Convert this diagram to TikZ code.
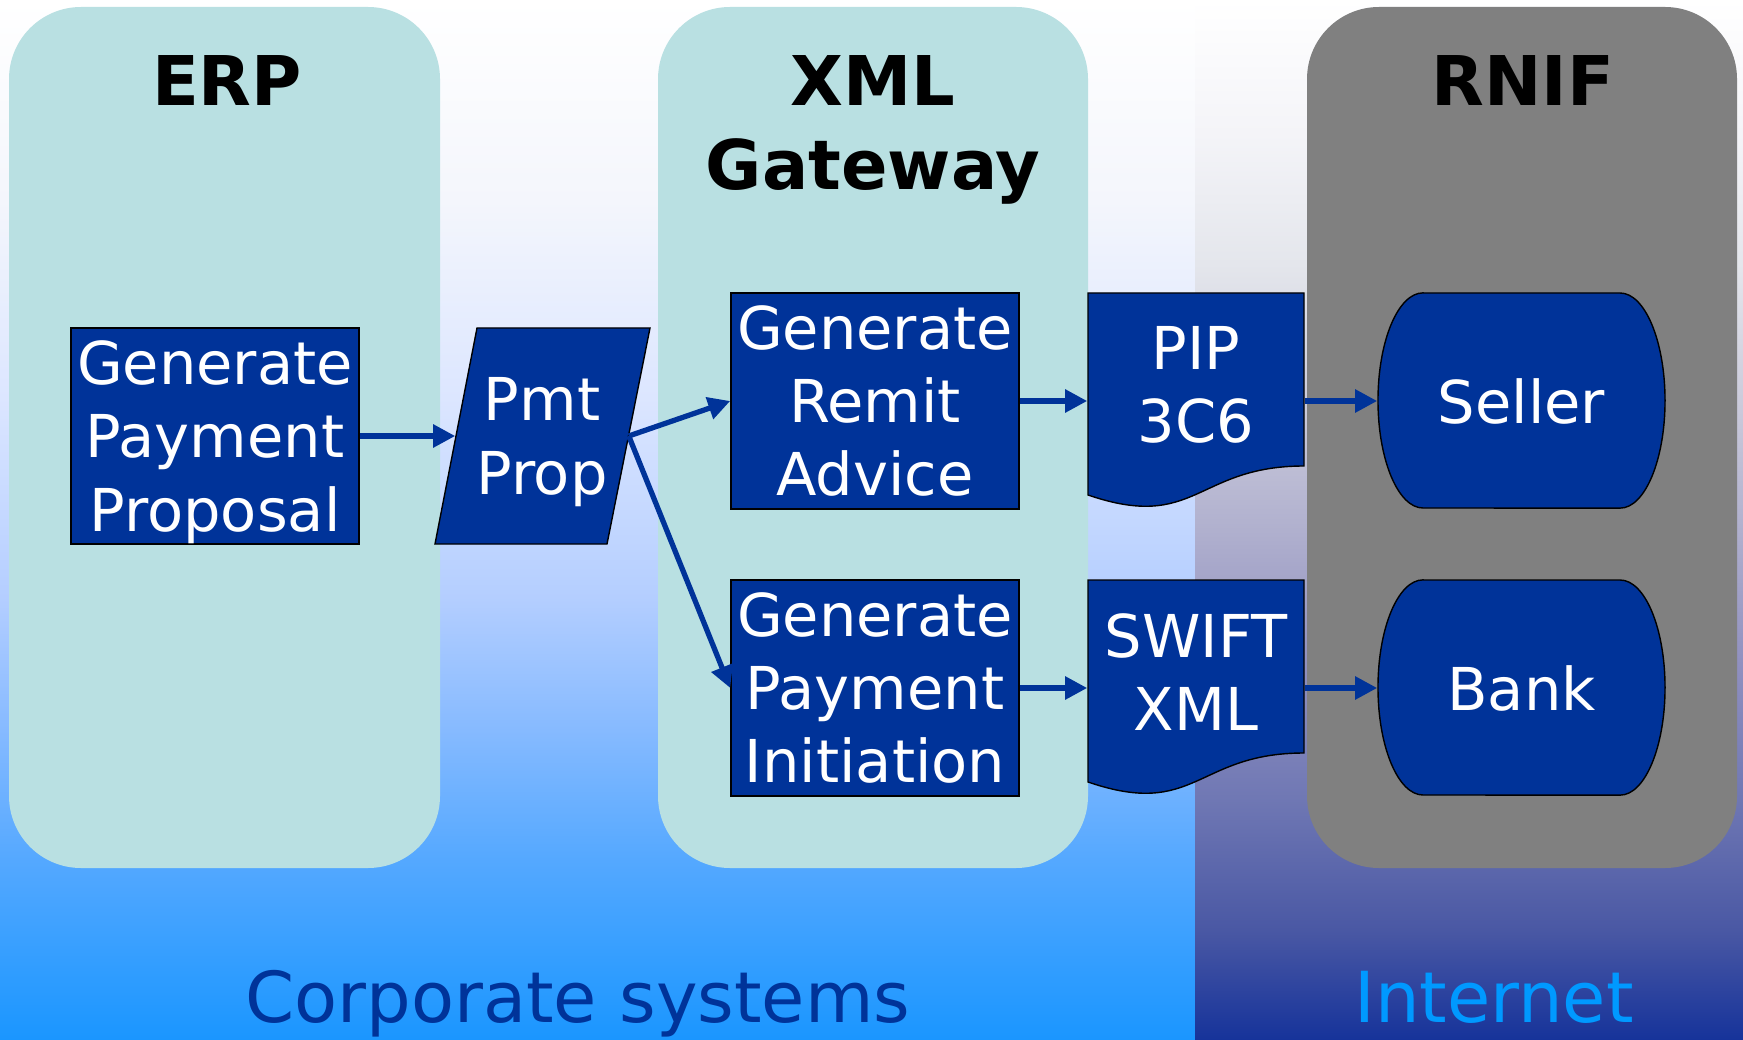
\documentclass[tikz,border=0pt]{standalone}
\usepackage{fontspec}
\setmainfont{DejaVu Sans}
\usepackage{tikz}
\usetikzlibrary{arrows.meta}

\definecolor{boxblue}{HTML}{003399}
\definecolor{panelcyan}{HTML}{B9E0E2}
\definecolor{panelgray}{HTML}{808080}
\definecolor{netblue}{HTML}{0099FF}

% sky behind the corporate part and behind the internet part
\pgfdeclareverticalshading{corpsky}{100bp}{rgb(0bp)=(0.102,0.588,1); rgb(25bp)=(0.102,0.588,1);
  rgb(33.6bp)=(0.329,0.659,1); rgb(39.9bp)=(0.525,0.729,1); rgb(46.3bp)=(0.706,0.808,1);
  rgb(55.9bp)=(0.863,0.902,1); rgb(65.4bp)=(0.957,0.965,0.988); rgb(75bp)=(1,1,1); rgb(100bp)=(1,1,1)}
\pgfdeclareverticalshading{netsky}{100bp}{rgb(0bp)=(0.086,0.2,0.604); rgb(25bp)=(0.086,0.2,0.604);
  rgb(30.3bp)=(0.29,0.345,0.643); rgb(36.7bp)=(0.439,0.471,0.706); rgb(43.1bp)=(0.565,0.565,0.753);
  rgb(49.5bp)=(0.69,0.69,0.808); rgb(55.9bp)=(0.8,0.8,0.863); rgb(62.3bp)=(0.894,0.902,0.925);
  rgb(68.6bp)=(0.957,0.957,0.973); rgb(75bp)=(1,1,1); rgb(100bp)=(1,1,1)}

\begin{document}
\begin{tikzpicture}[x=0.01cm, y=-0.01cm,
		panel/.style={fill=panelcyan, rounded corners=0.72cm},
		paneltitle/.style={font=\fontsize{19.5}{23.9}\selectfont\bfseries, inner sep=0pt, align=center},
		proc/.style={draw=black, line width=0.4pt, fill=boxblue, text=white, minimum width=2.88cm,
			minimum height=2.16cm, inner sep=0pt, align=center, font=\fontsize{16.8}{20.8}\selectfont},
		shapetext/.style={text=white, inner sep=0pt, align=center, font=\fontsize{16.8}{20.8}\selectfont},
		outline/.style={draw=black, line width=0.4pt, fill=boxblue},
		flow/.style={draw=boxblue, line width=1.5pt, -{Triangle[length=0.22cm, width=0.22cm]}},
		zonelabel/.style={font=\fontsize{20}{24}\selectfont, inner sep=0pt}]
		% Background
		\useasboundingbox (0,0) rectangle (1743,1040);
		\shade[shading=corpsky] (0,0) rectangle (1195,1040);
		\shade[shading=netsky] (1195,0) rectangle (1743,1040);

		% Panels
		\fill[panel] (9,7) rectangle (440,868);
		\fill[panel] (658,7) rectangle (1088,868);
		\fill[panel, fill=panelgray] (1307,7) rectangle (1737,868);
		\node[paneltitle, anchor=base] (erp) at (227,106) {ERP};
		\node[paneltitle, anchor=north] (gateway) at (873,55) {XML\\Gateway};
		\node[paneltitle, anchor=base] (rnif) at (1523,106) {RNIF};

		% Shapes drawn by hand
		\filldraw[outline] (477,328) -- (650,328) -- (607,544) -- (435,544) -- cycle;
		\filldraw[outline] (1088,293) -- (1304,293) -- (1304,466) .. controls (1196,466) and (1196,532) .. (1088,495) -- cycle;
		\filldraw[outline] (1088,580) -- (1304,580) -- (1304,753) .. controls (1196,753) and (1196,819) .. (1088,782) -- cycle;
		\filldraw[outline] (1423,293) -- (1620,293) arc[start angle=90, end angle=-90, x radius=0.45cm, y radius=1.075cm]
			-- (1423,508) arc[start angle=270, end angle=90, x radius=0.45cm, y radius=1.075cm] -- cycle;
		\filldraw[outline] (1423,580) -- (1620,580) arc[start angle=90, end angle=-90, x radius=0.45cm, y radius=1.075cm]
			-- (1423,795) arc[start angle=270, end angle=90, x radius=0.45cm, y radius=1.075cm] -- cycle;

		% Nodes
		\node[proc] (proposal) at (215,436) {Generate\\Payment\\\raisebox{0pt}[\height][0pt]{Proposal}};
		\node[shapetext, minimum width=1.72cm, minimum height=2.16cm] (pmt) at (542,436) {Pmt\\\raisebox{0pt}[\height][0pt]{Prop}};
		\node[proc] (remit) at (875,401) {Generate\\Remit\\Advice};
		\node[proc] (initiation) at (875,688) {Generate\\Payment\\Initiation};
		\node[shapetext, minimum width=2.16cm] (pip) at (1196,385) {PIP\\3C6};
		\node[shapetext, minimum width=2.16cm] (swift) at (1196,672) {SWIFT\\XML};
		\node[shapetext, minimum width=2.87cm, minimum height=2.16cm] (seller) at (1521.5,401) {Seller};
		\node[shapetext, minimum width=2.87cm, minimum height=2.16cm] (bank) at (1521.5,688) {Bank};

		% Connectors
		\draw[flow] (proposal.east) -- (pmt.west);
		\draw[flow] (pmt.east) -- (remit.west);
		\draw[flow] (pmt.east) -- (initiation.west);
		\draw[flow] (remit.east) -- (remit.east -| pip.west);
		\draw[flow] (initiation.east) -- (initiation.east -| swift.west);
		\draw[flow] (pip.east |- seller.west) -- (seller.west);
		\draw[flow] (swift.east |- bank.west) -- (bank.west);

		% Zone labels
		\node[zonelabel, text=boxblue, anchor=base] (corporate) at (578,1022) {Corporate systems};
		\node[zonelabel, text=netblue, anchor=base] (internet) at (1494,1022) {Internet};
\end{tikzpicture}
\end{document}
